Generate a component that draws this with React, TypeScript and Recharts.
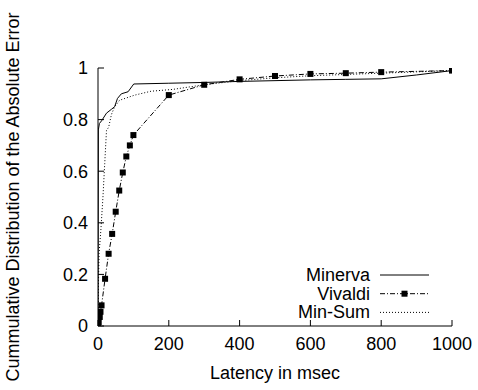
import { LineChart, Line, XAxis, YAxis, Legend } from "recharts";

const FONT = "'Liberation Sans', Arial, Helvetica, sans-serif";

const xTicks = [0, 200, 400, 600, 800, 1000];
const yTicks = [0, 0.2, 0.4, 0.6, 0.8, 1];
const seriesNames = ["Minerva", "Vivaldi", "Min-Sum"];

// Minerva
const minervaLatency = [0, 1, 4, 10, 24, 38, 47, 55, 66, 85, 101, 200, 300, 400, 500, 600, 700, 800, 900, 1000];
const minervaCdf = [0, 0.76, 0.785, 0.795, 0.825, 0.84, 0.85, 0.882, 0.9, 0.908, 0.938, 0.941, 0.944, 0.948, 0.951, 0.954, 0.956, 0.958, 0.973, 0.99];

// Vivaldi
const vivaldiLatency = [0, 2, 5, 7, 10, 20, 30, 40, 50, 60, 70, 80, 90, 100, 200, 300, 400, 500, 600, 700, 800, 1000];
const vivaldiCdf = [0, 0.015, 0.035, 0.055, 0.08, 0.183, 0.28, 0.357, 0.443, 0.525, 0.595, 0.657, 0.7, 0.74, 0.895, 0.935, 0.956, 0.969, 0.977, 0.98, 0.984, 0.99];

// Min-Sum
const minSumLatency = [0, 1, 3, 8, 14, 19, 24, 30, 38, 47, 61, 104, 150, 211, 305, 400, 500, 600, 700, 800, 900, 1000];
const minSumCdf = [0, 0.15, 0.28, 0.37, 0.5, 0.63, 0.758, 0.77, 0.82, 0.85, 0.875, 0.895, 0.91, 0.917, 0.936, 0.951, 0.962, 0.97, 0.975, 0.98, 0.985, 0.99];

const zip = (xs: number[], ys: number[]) => xs.map((latency, i) => ({ latency, cdf: ys[i] }));

const minerva = zip(minervaLatency, minervaCdf);
const vivaldi = zip(vivaldiLatency, vivaldiCdf);
const minSum = zip(minSumLatency, minSumCdf);

const dashes: Record<string, string | undefined> = {
  Minerva: undefined,
  Vivaldi: "5 2 1 2",
  "Min-Sum": "1 2",
};

const Square = (props: any) => {
  const { cx, cy } = props;
  if (cx == null || cy == null) return null;
  return <rect x={cx - 3} y={cy - 3} width={6} height={6} fill="#000" />;
};

const renderLegend = (props: any) => {
  const payload = [...(props.payload ?? [])].sort(
    (a: any, b: any) => seriesNames.indexOf(a.value) - seriesNames.indexOf(b.value)
  );
  return (
    <svg width={170} height={62} style={{ display: "block" }}>
      {payload.map((p: any, i: number) => {
        const y = 13 + i * 18.7;
        return (
          <g key={p.value}>
            <text x={90} y={y} textAnchor="end" dominantBaseline="central" fontSize={18} fontFamily={FONT} fill="#000">
              {p.value}
            </text>
            <line x1={100} x2={149} y1={y} y2={y} stroke="#000" strokeWidth={1} strokeDasharray={dashes[p.value]} />
            {p.value === "Vivaldi" && <rect x={121.5} y={y - 3} width={6} height={6} fill="#000" />}
          </g>
        );
      })}
    </svg>
  );
};

const YLabel = (props: any) => {
  const vb = props.viewBox || {};
  const cy = vb.y + vb.height / 2;
  return (
    <text x={12.5} y={cy} transform={`rotate(-90, 12.5, ${cy})`} textAnchor="middle" dominantBaseline="central" fontSize={18} fontFamily={FONT} fill="#000">
      Cummulative Distribution of the Absolute Error
    </text>
  );
};

const tickStyle = { fill: "#000", fontSize: 18, fontFamily: FONT };

export default function App() {
  return (
    <div style={{ position: "absolute", left: 0, top: 0 }}>
      <LineChart width={478} height={390} margin={{ top: 68, right: 26, bottom: 4, left: 0 }} style={{ fontFamily: FONT }}>
        <XAxis
          dataKey="latency"
          type="number"
          domain={[0, 1000]}
          ticks={xTicks}
          allowDataOverflow
          height={60}
          tickSize={-6}
          tickMargin={17}
          tick={tickStyle}
          stroke="#000"
          label={{ value: "Latency in msec", position: "insideBottom", offset: 7, fill: "#000", fontSize: 18, fontFamily: FONT }}
        />
        <XAxis xAxisId="top" orientation="top" dataKey="latency" type="number" domain={[0, 1000]} ticks={xTicks} allowDataOverflow height={0} tickSize={-6} tick={false} stroke="#000" />
        <YAxis
          type="number"
          domain={[0, 1]}
          ticks={yTicks}
          allowDataOverflow
          width={98}
          tickSize={-6}
          tickMargin={16}
          tick={tickStyle}
          stroke="#000"
          label={<YLabel />}
        />
        <YAxis yAxisId="right" orientation="right" type="number" domain={[0, 1]} ticks={yTicks} allowDataOverflow width={0} tickSize={-6} tick={false} stroke="#000" />
        <Legend
          layout="vertical"
          align="center"
          verticalAlign="middle"
          itemSorter={null}
          content={renderLegend}
          wrapperStyle={{ left: 280, top: 262, width: 170, height: 62 }}
        />
        <Line data={minerva} dataKey="cdf" name="Minerva" type="linear" stroke="#000" strokeWidth={1} dot={false} isAnimationActive={false} />
        <Line data={vivaldi} dataKey="cdf" name="Vivaldi" type="linear" stroke="#000" strokeWidth={1} strokeDasharray="5 2 1 2" dot={<Square />} isAnimationActive={false} />
        <Line data={minSum} dataKey="cdf" name="Min-Sum" type="linear" stroke="#000" strokeWidth={1} strokeDasharray="1 2" dot={false} isAnimationActive={false} />
      </LineChart>
    </div>
  );
}
